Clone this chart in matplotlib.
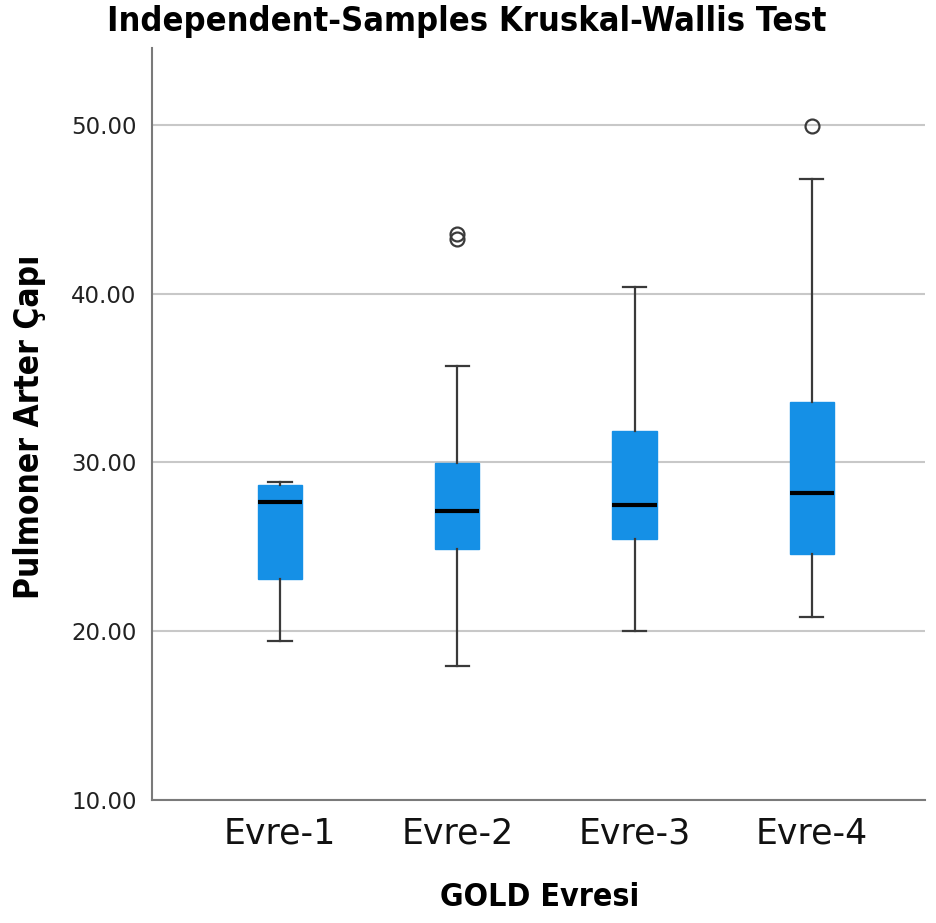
import matplotlib
matplotlib.use("Agg")
import matplotlib.pyplot as plt

# ============ data ============
groups = ["Evre-1", "Evre-2", "Evre-3", "Evre-4"]
whisker_lo = [19.43, 17.95, 20.00, 20.84]
q1 = [23.10, 24.85, 25.44, 24.60]
median = [27.65, 27.12, 27.50, 28.17]
q3 = [28.68, 29.97, 31.86, 33.57]
whisker_hi = [28.85, 35.70, 40.42, 46.80]
outliers = [[], [43.55, 43.25], [], [49.95]]

y_ticks = [10, 20, 30, 40, 50]

title = "Independent-Samples Kruskal-Wallis Test"
x_label = "GOLD Evresi"
y_label = "Pulmoner Arter Çapı"

BOX_COLOR = "#1590e6"
LINE_COLOR = "#3a3a3a"
GRID_COLOR = "#c8c8c8"

# ============ figure ============
fig = plt.figure(figsize=(9.37, 9.23), dpi=100)
ax = fig.add_axes([152 / 937, 1 - 800 / 923, (925 - 152) / 937, (800 - 48) / 923])

stats = []
for i, g in enumerate(groups):
    stats.append({
        "label": g,
        "whislo": whisker_lo[i],
        "q1": q1[i],
        "med": median[i],
        "q3": q3[i],
        "whishi": whisker_hi[i],
        "fliers": outliers[i],
    })

positions = list(range(1, len(groups) + 1))
ax.bxp(
    stats, positions=positions, widths=0.25, capwidths=0.13,
    patch_artist=True,
    boxprops=dict(facecolor=BOX_COLOR, edgecolor=BOX_COLOR, linewidth=1),
    medianprops=dict(color="black", linewidth=3, solid_capstyle="butt"),
    whiskerprops=dict(color=LINE_COLOR, linewidth=1.6),
    capprops=dict(color=LINE_COLOR, linewidth=1.6),
    flierprops=dict(marker="o", markersize=10, markerfacecolor="none",
                    markeredgecolor=LINE_COLOR, markeredgewidth=1.6),
    zorder=3,
)

ax.set_xlim(0.278, 4.638)
ax.set_ylim(10, 54.56)
ax.set_yticks(y_ticks)
ax.set_yticklabels([f"{v:.2f}" for v in y_ticks], fontsize=16.5, color="#222222")
ax.set_xticks(positions)
ax.set_xticklabels(groups, fontsize=25, color="#111111")
ax.tick_params(axis="both", length=0)
ax.tick_params(axis="y", pad=11)
ax.tick_params(axis="x", pad=12)

ax.yaxis.grid(True, color=GRID_COLOR, linewidth=1.5, zorder=0)
ax.set_axisbelow(True)

for side in ["top", "right"]:
    ax.spines[side].set_visible(False)
for side in ["left", "bottom"]:
    ax.spines[side].set_color("#7a7a7a")
    ax.spines[side].set_linewidth(1.5)

fig.text(467 / 937, 1 - 22 / 923, title, ha="center", va="center",
         fontsize=24.7, fontweight="bold", fontstretch="condensed")
fig.text(540 / 937, 1 - 898 / 923, x_label, ha="center", va="center",
         fontsize=23, fontweight="bold", fontstretch="condensed")
fig.text(30 / 937, 1 - 427 / 923, y_label, ha="center", va="center",
         rotation=90, fontsize=24, fontweight="bold", fontstretch="condensed")

fig.savefig("out.png", dpi=100, facecolor="white")
